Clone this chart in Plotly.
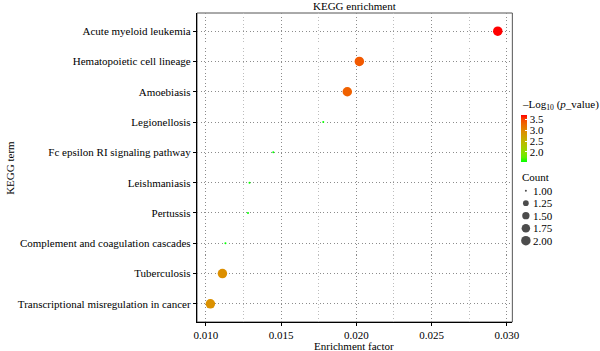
import math
import plotly.graph_objects as go

# ---------------- data ----------------
terms = [
    "Acute myeloid leukemia",
    "Hematopoietic cell lineage",
    "Amoebiasis",
    "Legionellosis",
    "Fc epsilon RI signaling pathway",
    "Leishmaniasis",
    "Pertussis",
    "Complement and coagulation cascades",
    "Tuberculosis",
    "Transcriptional misregulation in cancer",
]
enrichment = [0.0294, 0.0202, 0.0194, 0.0178, 0.01448, 0.0129, 0.0128, 0.0113, 0.0111, 0.0103]
neg_log_p = [3.70, 3.38, 3.33, 1.56, 1.55, 1.55, 1.55, 1.54, 2.92, 2.90]
count = [2, 2, 2, 1, 1, 1, 1, 1, 2, 2]

x_ticks = [0.010, 0.015, 0.020, 0.025, 0.030]
cbar_ticks = [2.0, 2.5, 3.0, 3.5]
count_levels = [1.00, 1.25, 1.50, 1.75, 2.00]

# ---------------- styling helpers ----------------
FONT = "Liberation Serif"
W, H = 600, 351
ML, MR, MT, MB = 197, 5, 13, 29
PW, PH = W - ML - MR, H - MT - MB


def px_x(px):
    return (px - ML) / PW


def px_y(py):
    return (H - MB - py) / PH


def _lin(c):
    c = c / 255
    return c / 12.92 if c <= 0.04045 else ((c + 0.055) / 1.055) ** 2.4


def _delin(c):
    c = 12.92 * c if c <= 0.0031308 else 1.055 * c ** (1 / 2.4) - 0.055
    return max(0, min(255, round(c * 255)))


def hex_to_lab(h):
    r, g, b = (_lin(int(h[i:i + 2], 16)) for i in (1, 3, 5))
    X = (0.4124 * r + 0.3576 * g + 0.1805 * b) / 0.95047
    Y = (0.2126 * r + 0.7152 * g + 0.0722 * b)
    Z = (0.0193 * r + 0.1192 * g + 0.9505 * b) / 1.08883
    f = lambda t: t ** (1 / 3) if t > 0.008856 else 7.787 * t + 16 / 116
    fx, fy, fz = f(X), f(Y), f(Z)
    return 116 * fy - 16, 500 * (fx - fy), 200 * (fy - fz)


def lab_to_hex(L, a, b):
    fy = (L + 16) / 116
    fx = fy + a / 500
    fz = fy - b / 200
    finv = lambda t: t ** 3 if t ** 3 > 0.008856 else (t - 16 / 116) / 7.787
    X, Y, Z = finv(fx) * 0.95047, finv(fy), finv(fz) * 1.08883
    r = 3.2406 * X - 1.5372 * Y - 0.4986 * Z
    g = -0.9689 * X + 1.8758 * Y + 0.0415 * Z
    bb = 0.0557 * X - 0.2040 * Y + 1.0570 * Z
    return "#%02x%02x%02x" % (_delin(r), _delin(g), _delin(bb))


lo, hi = hex_to_lab("#00ff00"), hex_to_lab("#ff0000")
colorscale = []
for i in range(11):
    t = i / 10
    colorscale.append([t, lab_to_hex(*(lo[k] + t * (hi[k] - lo[k]) for k in range(3)))])

MAXD = 9.5


def size_px(c):
    t = (c - 1.0) / (2.0 - 1.0)
    s = 1 + 5 * math.sqrt(max(t, 0))
    return MAXD * (s * 2.845 + 0.945) / (6 * 2.845 + 0.945)


fig = go.Figure()

fig.add_trace(go.Scatter(
    x=enrichment,
    y=terms,
    mode="markers",
    showlegend=False,
    marker=dict(
        color=neg_log_p,
        colorscale=colorscale,
        cmin=min(neg_log_p),
        cmax=max(neg_log_p),
        size=[size_px(c) for c in count],
        line=dict(width=0),
        opacity=1,
        colorbar=dict(
            x=px_x(527), xanchor="left",
            y=px_y(138.5), yanchor="middle",
            len=47, lenmode="pixels",
            thickness=6, thicknessmode="pixels",
            xpad=0, ypad=0, outlinewidth=0,
            tickvals=cbar_ticks,
            ticktext=[f"{v:.1f}" for v in cbar_ticks],
            ticks="inside", ticklen=2, tickcolor="white",
            tickfont=dict(family=FONT, size=11, color="black"),
        ),
    ),
))

# size legend drawn on its own small axis
fig.add_trace(go.Scatter(
    x=[0] * len(count_levels),
    y=count_levels,
    mode="markers",
    showlegend=False,
    xaxis="x2", yaxis="y2",
    cliponaxis=False,
    marker=dict(color="black", size=[size_px(c) for c in count_levels], line=dict(width=0)),
    hoverinfo="skip",
))

grid_major = "#8c8c8c"
grid_minor = "#bdbdbd"
DOT = "1px,2.5px"

fig.update_layout(
    width=W, height=H,
    margin=dict(l=ML, r=MR, t=MT, b=MB),
    paper_bgcolor="white", plot_bgcolor="white",
    font=dict(family=FONT, size=11, color="black"),
    xaxis=dict(
        domain=[0, px_x(518)],
        range=[0.00941, 0.03037],
        tickvals=x_ticks,
        ticktext=[f"{v:.3f}" for v in x_ticks],
        ticks="outside", ticklen=3, tickcolor="black", tickwidth=1,
        showline=True, linecolor="black", linewidth=1.3,
        showgrid=True, gridcolor=grid_major, griddash=DOT, gridwidth=1,
        minor=dict(dtick=0.0025, tick0=0.0, showgrid=True, gridcolor=grid_minor,
                   griddash=DOT, gridwidth=1, ticks=""),
        zeroline=False,
        tickfont=dict(family=FONT, size=11),
    ),
    yaxis=dict(
        type="category",
        categoryorder="array",
        categoryarray=terms[::-1],
        range=[-0.6, 9.6],
        ticks="outside", ticklen=3, tickcolor="black", tickwidth=1,
        showline=True, linecolor="black", linewidth=1.3,
        showgrid=True, gridcolor=grid_major, griddash=DOT, gridwidth=1,
        zeroline=False,
        tickfont=dict(family=FONT, size=11),
    ),
    xaxis2=dict(
        domain=[px_x(525.5), px_x(538)],
        anchor="y2",
        range=[-1, 1],
        visible=False,
        fixedrange=True,
    ),
    yaxis2=dict(
        domain=[px_y(248), px_y(170)],
        anchor="x2",
        side="right",
        range=[2.146, 0.586],
        tickvals=count_levels,
        ticktext=[f"{v:.2f}" for v in count_levels],
        ticks="", showgrid=False, zeroline=False, showline=False,
        tickfont=dict(family=FONT, size=11),
        fixedrange=True,
    ),
    shapes=[dict(
        type="rect", xref="x domain", yref="y domain",
        x0=0, x1=1, y0=0, y1=1,
        line=dict(color="#555555", width=1), layer="below",
    )],
    annotations=[
        dict(text="KEGG enrichment", xref="paper", yref="paper",
             x=px_x(357.2), y=px_y(5.5), xanchor="center", yanchor="middle",
             showarrow=False, font=dict(family=FONT, size=11)),
        dict(text="Enrichment factor", xref="paper", yref="paper",
             x=px_x(357.2), y=px_y(345.5), xanchor="center", yanchor="middle",
             showarrow=False, font=dict(family=FONT, size=11)),
        dict(text="KEGG term", xref="paper", yref="paper",
             x=px_x(6), y=px_y(167.5), xanchor="center", yanchor="middle",
             textangle=-90, showarrow=False, font=dict(family=FONT, size=11)),
        dict(text="–Log<sub>10</sub> (<i>p</i>_value)", xref="paper", yref="paper",
             x=px_x(526), y=px_y(105), xanchor="left", yanchor="middle",
             showarrow=False, font=dict(family=FONT, size=11)),
        dict(text="Count", xref="paper", yref="paper",
             x=px_x(526), y=px_y(176.5), xanchor="left", yanchor="middle",
             showarrow=False, font=dict(family=FONT, size=11)),
    ],
)

fig.write_html("out.html")
